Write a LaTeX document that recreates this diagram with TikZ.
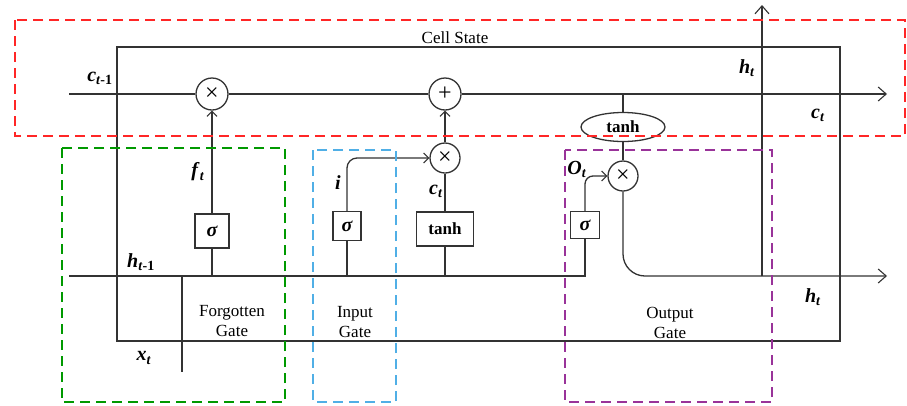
\documentclass[tikz,border=0pt]{standalone}
\usepackage{fontspec}
\setmainfont{Liberation Serif}
\usetikzlibrary{arrows.meta,shapes.geometric}
\newcommand\vsub[2]{\textbf{\textit{#1}}\textsubscript{\textbf{\textit{#2}}}}
\begin{document}
\begin{tikzpicture}[x=1pt,y=-1pt,
  wire/.style={line width=1.3pt, draw=black!80},
  sarrow/.style={-{Straight Barb[length=5pt,width=10pt,line width=1.1pt]}},
  barrow/.style={-{Straight Barb[length=8pt,width=14pt,line width=1.1pt]}},
  opcirc/.style={circle, draw=black!80, line width=1.3pt, minimum size=32pt, inner sep=0pt, fill=white, font=\fontsize{24}{24}\selectfont},
  gatebox/.style={rectangle, draw=black!80, line width=1.3pt, inner sep=0pt, fill=white},
  sig/.style={font=\fontsize{20}{20}\selectfont\bfseries\itshape},
  lbl/.style={font=\fontsize{20}{20}\selectfont, inner sep=0pt},
  gtxt/.style={font=\fontsize{17}{20}\selectfont, align=center, inner sep=0pt},
  region/.style={dashed, dash pattern=on 10pt off 6pt, line width=1.6pt}
]
\fill[white] (0,0) rectangle (907,405);
\useasboundingbox (0,0) rectangle (907,405);

% main cell rectangle
\draw[wire] (117,47) rectangle (840,341);
\node[gtxt] (cs) at (455,38) {Cell State};

% operator nodes
\node[opcirc] (F) at (212,94) {×};
\node[opcirc] (P) at (445,94) {+};
\node[opcirc, minimum size=30pt] (IM) at (445,158) {×};
\node[opcirc, minimum size=30pt] (OM) at (623,176) {×};
\node[ellipse, draw=black!80, line width=1.3pt, fill=white, minimum width=84pt, minimum height=29pt, inner sep=0pt, font=\fontsize{17}{17}\selectfont\bfseries] (E) at (623,127) {tanh};

% gate boxes
\node[gatebox, sig, minimum width=34pt, minimum height=34pt] (FS) at (212,231) {σ};
\node[gatebox, sig, minimum width=28pt, minimum height=29pt] (IS) at (347,226) {σ};
\node[gatebox, minimum width=57pt, minimum height=34pt, font=\fontsize{17}{17}\selectfont\bfseries] (TB) at (445,229) {tanh};
\node[gatebox, sig, minimum width=29pt, minimum height=27pt] (OS) at (585,225) {σ};

% coordinates
\coordinate (cin) at (69,94);
\coordinate (cout) at (887,94);
\coordinate (tap) at (623,94);
\coordinate (hin) at (69,276);
\coordinate (hend) at (585,276);
\coordinate (fb) at (212,276);
\coordinate (ib) at (347,276);
\coordinate (tb) at (445,276);
\coordinate (xa) at (182,276);
\coordinate (xb) at (182,372);
\coordinate (hout) at (887,276);
\coordinate (htb) at (762,276);
\coordinate (htt) at (762,5);

% cell state line
\draw[wire] (cin) -- (F) -- (P);
\draw[wire, barrow] (P) -- (cout);
\draw[wire] (tap) -- (E);
\draw[wire] (E) -- (OM);

% hidden / input lines
\draw[wire] (hin) -- (hend) -- (OS);
\draw[wire] (xa) -- (xb);

% forget gate
\draw[wire] (fb) -- (FS);
\draw[wire, sarrow] (FS) -- (F);

% input gate
\draw[wire] (ib) -- (IS);
\draw[wire, sarrow, rounded corners=10pt] (IS) |- (IM);
\draw[wire] (tb) -- (TB);
\draw[wire] (TB) -- (IM);
\draw[wire, sarrow] (IM) -- (P);

% output gate
\draw[wire, sarrow, rounded corners=8pt] (OS) |- (OM);
\draw[wire, barrow, rounded corners=22pt] (OM) |- (hout);
\draw[wire, barrow] (htb) -- (htt);

% labels
\node[lbl] (lc1) at (100,78) {\vsub{c}{t\textup{-1}}};
\node[lbl] (lf) at (198,172) {\vsub{f}{t}};
\node[lbl] (lh1) at (141,262) {\vsub{h}{t\textup{-1}}};
\node[lbl] (lx) at (144,358) {\vsub{x}{t}};
\node[lbl] (li) at (338,183) {\textbf{\textit{i}}};
\node[lbl] (lct) at (436,191) {\vsub{c}{t}};
\node[lbl] (lo) at (577,169) {\vsub{O}{t}};
\node[lbl] (lht) at (747,68) {\vsub{h}{t}};
\node[lbl] (lct2) at (818,115) {\vsub{c}{t}};
\node[lbl] (lht2) at (813,297) {\vsub{h}{t}};

\node[gtxt] (gf) at (232,321) {Forgotten\\Gate};
\node[gtxt] (gi) at (355,322) {Input\\Gate};
\node[gtxt] (go) at (670,323) {Output\\Gate};

% dashed regions
\draw[region, draw=red!85] (15,20) rectangle (905,136);
\draw[region, draw=green!60!black] (62,148) rectangle (285,402);
\draw[region, draw=cyan!80!blue!70] (313,150) rectangle (396,402);
\draw[region, draw=violet!80] (565,150) rectangle (772,402);
\end{tikzpicture}
\end{document}
